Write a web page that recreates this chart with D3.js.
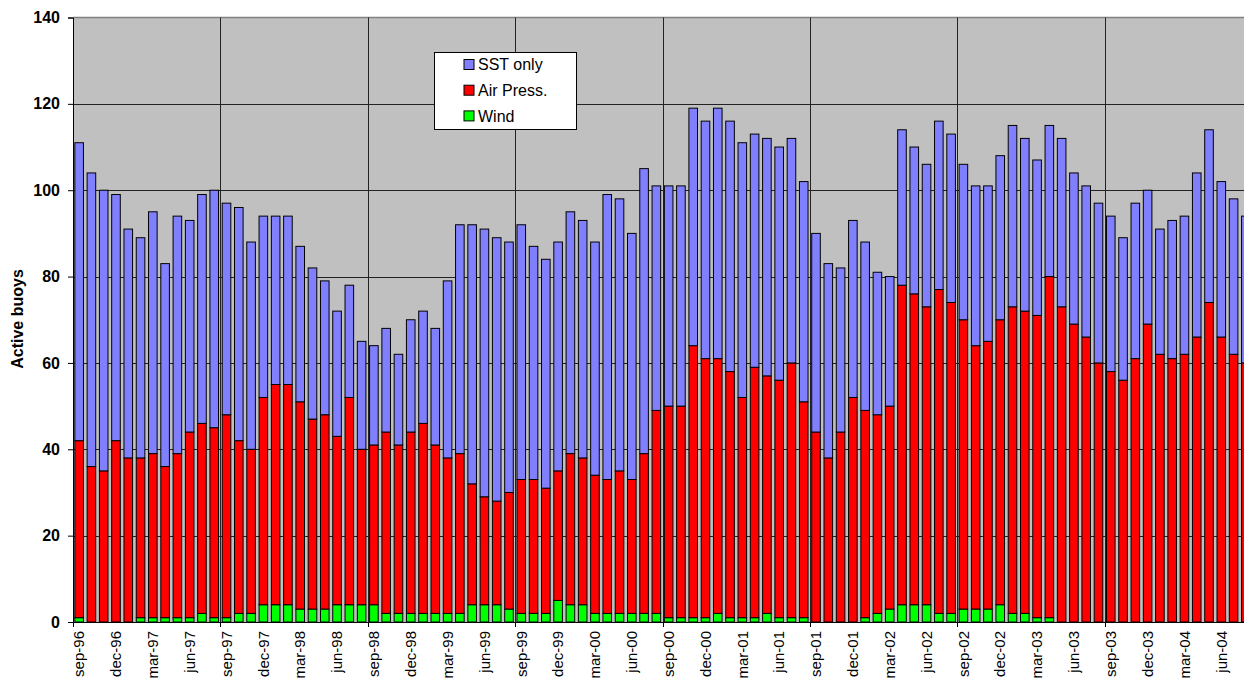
<html>
<head>
<meta charset="UTF-8">
<title>Active buoys</title>
<script src="https://cdn.jsdelivr.net/npm/d3@7"></script>
<style>
  body { margin: 0; background: #fff; }
  svg { display: block; font-family: Arial, "Liberation Sans", sans-serif; }
</style>
</head>
<body>
<svg id="chart" width="1244" height="684"></svg>
<script>
// month labels, sep-96 .. aug-04
var months = [
  "sep-96","oct-96","nov-96","dec-96","jan-97","feb-97","mar-97","apr-97","may-97","jun-97","jul-97","aug-97",
  "sep-97","oct-97","nov-97","dec-97","jan-98","feb-98","mar-98","apr-98","may-98","jun-98","jul-98","aug-98",
  "sep-98","oct-98","nov-98","dec-98","jan-99","feb-99","mar-99","apr-99","may-99","jun-99","jul-99","aug-99",
  "sep-99","oct-99","nov-99","dec-99","jan-00","feb-00","mar-00","apr-00","may-00","jun-00","jul-00","aug-00",
  "sep-00","oct-00","nov-00","dec-00","jan-01","feb-01","mar-01","apr-01","may-01","jun-01","jul-01","aug-01",
  "sep-01","oct-01","nov-01","dec-01","jan-02","feb-02","mar-02","apr-02","may-02","jun-02","jul-02","aug-02",
  "sep-02","oct-02","nov-02","dec-02","jan-03","feb-03","mar-03","apr-03","may-03","jun-03","jul-03","aug-03",
  "sep-03","oct-03","nov-03","dec-03","jan-04","feb-04","mar-04","apr-04","may-04","jun-04","jul-04","aug-04"
];

// buoys with wind sensor (bottom of stack)
var wind = [
  1,0,0,0,0,1,1,1,1,1,2,1,
  1,2,2,4,4,4,3,3,3,4,4,4,
  4,2,2,2,2,2,2,2,4,4,4,3,
  2,2,2,5,4,4,2,2,2,2,2,2,
  1,1,1,1,2,1,1,1,2,1,1,1,
  0,0,0,0,1,2,3,4,4,4,2,2,
  3,3,3,4,2,2,1,1,0,0,0,0,
  0,0,0,0,0,0,0,0,0,0,0,0
];

// buoys with air pressure
var airPress = [
  41,36,35,42,38,37,38,35,38,43,44,44,
  47,40,38,48,51,51,48,44,45,39,48,36,
  37,42,39,42,44,39,36,37,28,25,24,27,
  31,31,29,30,35,34,32,31,33,31,37,47,
  49,49,63,60,59,57,51,58,55,55,59,50,
  44,38,44,52,48,46,47,74,72,69,75,72,
  67,61,62,66,71,70,70,79,73,69,66,60,
  58,56,61,69,62,61,62,66,74,66,62,60
];

// buoys reporting SST only (top of stack)
var sstOnly = [
  69,68,65,57,53,51,56,47,55,49,53,55,
  49,54,48,42,39,39,36,35,31,29,26,25,
  23,24,21,26,26,27,41,53,60,62,61,58,
  59,54,53,53,56,55,54,66,63,57,66,52,
  51,51,55,55,58,58,59,54,55,54,52,51,
  46,45,38,41,39,33,30,36,34,33,39,39,
  36,37,36,38,42,40,36,35,39,35,35,37,
  36,33,36,31,29,32,32,38,40,36,36,34
];

var seriesNames = ["Wind", "Air Press.", "SST only"];
var seriesColors = ["#00ff00", "#ff0000", "#8080ff"];
var yTicks = [0, 20, 40, 60, 80, 100, 120, 140];

var svg = d3.select("#chart");
var plotLeft = 73, plotTop = 17.5, plotBottom = 622, plotRight = 1252;

var rows = months.map(function (m, i) {
  return { month: m, "Wind": wind[i], "Air Press.": airPress[i], "SST only": sstOnly[i] };
});

var x = d3.scaleBand().domain(months).range([plotLeft, plotRight]).paddingInner(0.3).paddingOuter(0.15);
var y = d3.scaleLinear().domain([0, 140]).range([plotBottom, plotTop]);

function yearLineX(m) {
  return Math.round(x(m) - x.step() * x.paddingInner() / 2) + 0.5;
}

// plot background
svg.append("rect")
  .attr("x", plotLeft).attr("y", plotTop)
  .attr("width", plotRight - plotLeft).attr("height", plotBottom - plotTop)
  .attr("fill", "#c0c0c0");

// horizontal grid
svg.append("g").selectAll("line")
  .data(yTicks.filter(function (d) { return d > 0 && d < 140; }))
  .enter().append("line")
  .attr("x1", plotLeft).attr("x2", plotRight)
  .attr("y1", function (d) { return Math.round(y(d)) + 0.5; })
  .attr("y2", function (d) { return Math.round(y(d)) + 0.5; })
  .attr("stroke", "#222").attr("stroke-width", 1);

// top border of plot
svg.append("line")
  .attr("x1", plotLeft).attr("x2", plotRight)
  .attr("y1", plotTop).attr("y2", plotTop)
  .attr("stroke", "#808080").attr("stroke-width", 1.5);

// vertical grid at every september
var yearStarts = months.filter(function (m) { return m.indexOf("sep") === 0; });
svg.append("g").selectAll("line")
  .data(yearStarts.slice(1))
  .enter().append("line")
  .attr("x1", yearLineX).attr("x2", yearLineX)
  .attr("y1", plotTop).attr("y2", plotBottom)
  .attr("stroke", "#222").attr("stroke-width", 1);

// stacked bars
var stack = d3.stack().keys(seriesNames)(rows);
svg.append("g").selectAll("g")
  .data(stack)
  .enter().append("g")
  .attr("fill", function (d, i) { return seriesColors[i]; })
  .selectAll("rect")
  .data(function (d) { return d.filter(function (p) { return p[1] > p[0]; }); })
  .enter().append("rect")
  .attr("x", function (d) { return x(d.data.month); })
  .attr("y", function (d) { return y(d[1]); })
  .attr("width", x.bandwidth())
  .attr("height", function (d) { return y(d[0]) - y(d[1]); })
  .attr("stroke", "#000").attr("stroke-width", 1);

// y axis
var yAxis = svg.append("g").attr("transform", "translate(" + plotLeft + ",0)")
  .call(d3.axisLeft(y).tickValues(yTicks).tickSize(5).tickPadding(8));
yAxis.select(".domain").attr("stroke", "#000");
yAxis.selectAll("text").attr("font-size", 16).attr("font-weight", "bold").attr("fill", "#000")
  .attr("font-family", "Arial, 'Liberation Sans', sans-serif");

// x axis line + yearly ticks
svg.append("line")
  .attr("x1", plotLeft).attr("x2", plotRight)
  .attr("y1", plotBottom + 0.5).attr("y2", plotBottom + 0.5)
  .attr("stroke", "#000").attr("stroke-width", 1);
svg.append("g").selectAll("line")
  .data(yearStarts)
  .enter().append("line")
  .attr("x1", yearLineX).attr("x2", yearLineX)
  .attr("y1", plotBottom).attr("y2", plotBottom + 5)
  .attr("stroke", "#000");

// month labels every 3rd month
svg.append("g").selectAll("text")
  .data(months.filter(function (m, i) { return i % 3 === 0; }))
  .enter().append("text")
  .attr("transform", function (d) {
    return "translate(" + (x(d) + x.bandwidth() / 2) + "," + (plotBottom + 9) + ") rotate(-90)";
  })
  .attr("text-anchor", "end")
  .attr("dy", "0.35em")
  .attr("font-size", 15)
  .text(function (d) { return d; });

// y title
svg.append("text")
  .attr("transform", "translate(17,319) rotate(-90)")
  .attr("text-anchor", "middle")
  .attr("dy", "0.35em")
  .attr("font-size", 16).attr("font-weight", "bold")
  .text("Active buoys");

// legend
var legend = svg.append("g");
legend.append("rect")
  .attr("x", 434.5).attr("y", 52.5).attr("width", 142).attr("height", 77)
  .attr("fill", "#fff").attr("stroke", "#000");
var legendOrder = ["SST only", "Air Press.", "Wind"];
var item = legend.selectAll("g.item")
  .data(legendOrder)
  .enter().append("g").attr("class", "item")
  .attr("transform", function (d, i) { return "translate(464," + (64.5 + i * 25.7) + ")"; });
item.append("rect")
  .attr("x", 0).attr("y", -5).attr("width", 10).attr("height", 10)
  .attr("fill", function (d) { return seriesColors[seriesNames.indexOf(d)]; })
  .attr("stroke", "#000");
item.append("text")
  .attr("x", 14).attr("dy", "0.36em")
  .attr("font-size", 16)
  .text(function (d) { return d; });
</script>
</body>
</html>
